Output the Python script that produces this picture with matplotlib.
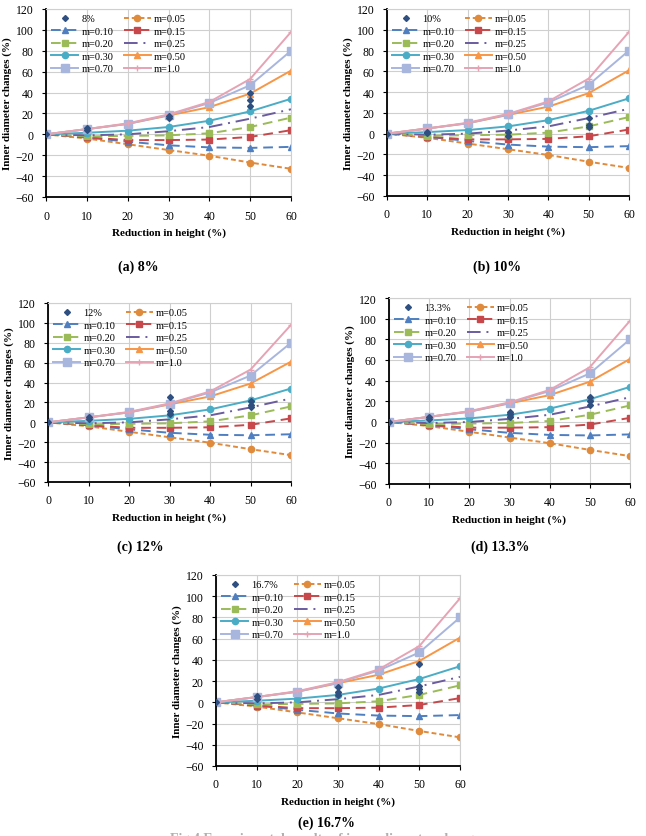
import numpy as np
import matplotlib
matplotlib.use('Agg')
import matplotlib.pyplot as plt

plt.rcParams['font.family'] = ['Liberation Serif', 'DejaVu Serif']

# reduction in height (%)
reduction = [0, 10, 20, 30, 40, 50, 60]

# model curves for each m (inner diameter change, %)
m_labels = ['m=0.05', 'm=0.10', 'm=0.15', 'm=0.20', 'm=0.25',
            'm=0.30', 'm=0.50', 'm=0.70', 'm=1.0']
m005 = [0, -4, -9.5, -15, -20.5, -27, -33]
m010 = [0, -3, -7, -10.5, -12.5, -13, -12]
m015 = [0, -3, -5.5, -5.5, -5, -2.5, 4]
m020 = [0, -2, -1.5, -1, 1, 7, 16]
m025 = [0, -1, 0, 3, 7, 15, 24]
m030 = [0, 1.5, 3.5, 7, 13, 22, 34]
m050 = [0, 5, 10, 18, 26, 39, 61]
m070 = [0, 5, 10, 18.5, 30, 47, 80]
m100 = [0, 5, 10.5, 19, 31, 53, 98]
m_values = [m005, m010, m015, m020, m025, m030, m050, m070, m100]

# experimental points per panel
panel_names = ['8%', '10%', '12%', '13.3%', '16.7%']
captions = ['(a) 8%', '(b) 10%', '(c) 12%', '(d) 13.3%', '(e) 16.7%']
exp_x = [
    [0, 10, 10, 30, 30, 50, 50, 50],
    [0, 10, 10, 30, 30, 50, 50, 50],
    [0, 10, 10, 30, 30, 30, 50, 50, 50],
    [0, 10, 10, 30, 30, 30, 50, 50, 50],
    [0, 10, 10, 30, 30, 30, 50, 50, 50, 50],
]
exp_y = [
    [0, 4, 6, 15.5, 18, 27, 33, 40],
    [0, 0.5, 2, -2, 1.5, 6, 8, 15],
    [0, 3, 5, 8.5, 11.5, 25, 15, 17, 21],
    [0, 3, 5, 5, 8, 10, 16, 20, 24],
    [0, 3, 5.5, 6.5, 9.5, 14, 9.5, 12.5, 15.5, 36],
]

styles = [
    dict(color='#E08A3C', ls=(0, (2.5, 1.5)), marker='o', ms=4.5),
    dict(color='#4F7FC0', ls=(0, (5, 3)), marker='^', ms=4.5),
    dict(color='#C8474A', ls=(0, (5, 3)), marker='s', ms=5),
    dict(color='#9BBB59', ls=(0, (5, 3)), marker='s', ms=5),
    dict(color='#6A5C9E', ls=(0, (7, 3, 1, 3)), marker='None', ms=0),
    dict(color='#4BACC6', ls='-', marker='o', ms=4.5),
    dict(color='#F79646', ls='-', marker='^', ms=4.5),
    dict(color='#A8B6DE', ls='-', marker='s', ms=5.5),
    dict(color='#E6A3B4', ls='-', marker='+', ms=4.5),
]

# axes boxes in pixels: left, top, right, bottom
boxes = [(46, 10, 291, 198), (387, 10, 629, 197), (48, 304, 291, 483),
         (389, 299, 630, 485), (216, 576, 460, 767)]
caption_pos = [(138, 267), (497, 267), (140, 547), (500, 547), (326, 823)]

W, H = 646, 837
fig = plt.figure(figsize=(W / 100, H / 100), dpi=100)

for k in range(5):
    l, t, r, b = boxes[k]
    ax = fig.add_axes([l / W, 1 - b / H, (r - l) / W, (b - t) / H])
    handles = {}
    for lab, vals, st in zip(m_labels, m_values, styles):
        ln, = ax.plot(reduction, vals, color=st['color'], linestyle=st['ls'],
                      marker=st['marker'], markersize=st['ms'], lw=1.4,
                      markeredgewidth=1.0, label=lab, zorder=2)
        handles[lab] = ln
    ex, = ax.plot(exp_x[k], exp_y[k], linestyle='none', marker='D',
                  markersize=3, color='#2E4F80', label=panel_names[k], zorder=3)
    handles[panel_names[k]] = ex

    ax.set_xlim(0, 60)
    ax.set_ylim(-60, 120)
    ax.set_xticks(range(0, 61, 10))
    ax.set_yticks(range(-60, 121, 20))
    ax.grid(True, color='#cfcfcf', lw=0.8)
    ax.set_axisbelow(True)
    for s in ['top', 'right']:
        ax.spines[s].set_color('#cfcfcf')
        ax.spines[s].set_linewidth(0.8)
    for s in ['left', 'bottom']:
        ax.spines[s].set_color('black')
        ax.spines[s].set_linewidth(1.3)
    ax.tick_params(labelsize=8.5, length=3, width=0.8, pad=6)
    ax.set_xlabel('Reduction in height (%)', fontsize=8, fontweight='bold', labelpad=4)
    ax.set_ylabel('Inner diameter changes (%)', fontsize=8, fontweight='bold', labelpad=2)

    order = [panel_names[k], 'm=0.10', 'm=0.20', 'm=0.30', 'm=0.70',
             'm=0.05', 'm=0.15', 'm=0.25', 'm=0.50', 'm=1.0']
    ax.legend([handles[o] for o in order], order, ncol=2, loc='upper left',
              frameon=False, fontsize=7.5, numpoints=1, handlelength=2.6,
              labelspacing=0.3, columnspacing=1.0, handletextpad=0.3,
              borderaxespad=0.1, bbox_to_anchor=(0.0, 1.0))

    cx, cy = caption_pos[k]
    fig.text(cx / W, 1 - cy / H, captions[k], ha='center', va='center',
             fontsize=10, fontweight='bold')

# figure caption, mostly cut off at the bottom edge like in the source
fig.text(170 / W, 1 - 833 / H, 'Fig.4 Experimental results of inner diameter changes',
         ha='left', va='top', fontsize=10, fontweight='bold', color='#b0b0b0')

fig.savefig('out.png', dpi=100)
